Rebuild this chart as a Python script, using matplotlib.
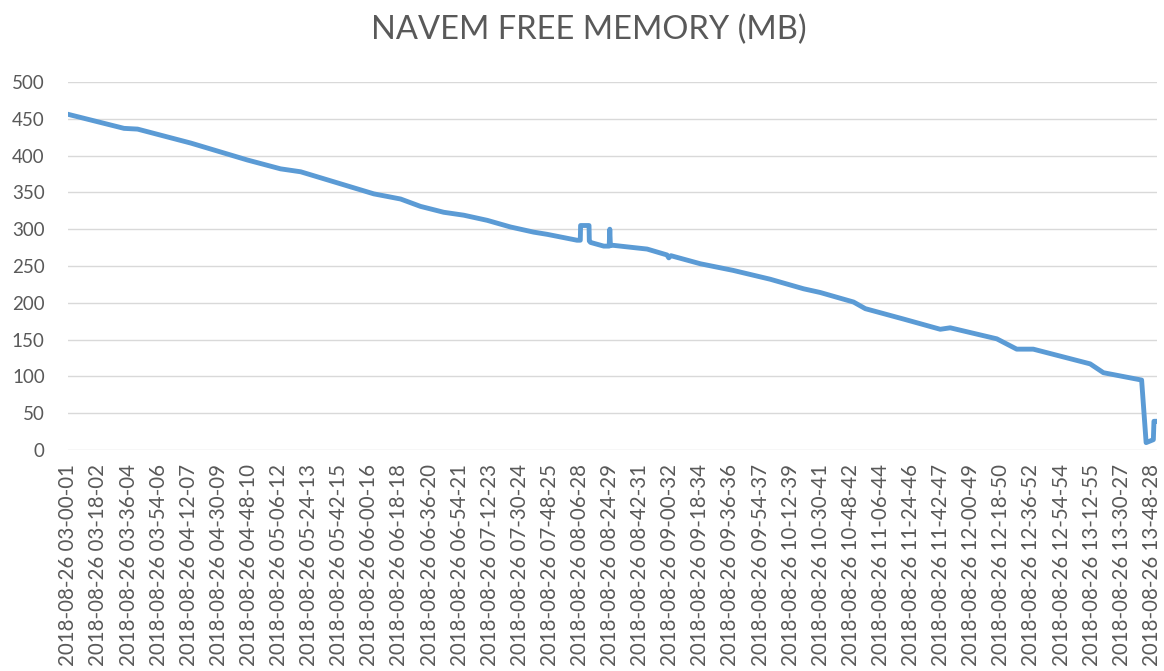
import matplotlib.pyplot as plt

# tick labels (one every ~18 minutes)
times = ["03-00-01", "03-18-02", "03-36-04", "03-54-06", "04-12-07", "04-30-09",
         "04-48-10", "05-06-12", "05-24-13", "05-42-15", "06-00-16", "06-18-18",
         "06-36-20", "06-54-21", "07-12-23", "07-30-24", "07-48-25", "08-06-28",
         "08-24-29", "08-42-31", "09-00-32", "09-18-34", "09-36-36", "09-54-37",
         "10-12-39", "10-30-41", "10-48-42", "11-06-44", "11-24-46", "11-42-47",
         "12-00-49", "12-18-50", "12-36-52", "12-54-54", "13-12-55", "13-30-27",
         "13-48-28"]
labels = ["2018-08-26 " + t for t in times]

# samples, position in units of tick labels
pos = [0.0, 1.85, 2.30, 4.07, 5.95, 7.05, 7.72, 10.15, 11.04, 11.70, 12.47,
       13.14, 13.92, 14.69, 15.46, 15.91, 16.90, 17.01, 17.02, 17.30, 17.31,
       17.35, 17.79, 17.97, 17.99, 18.01, 18.12, 18.78, 19.23, 19.89, 19.95,
       20.02, 21.00, 22.09, 23.32, 24.43, 24.98, 26.09, 26.48, 27.74, 28.97,
       29.30, 30.85, 31.51, 32.06, 33.95, 34.39, 35.66, 35.81, 36.05, 36.07,
       36.12]
free_mb = [456, 437, 436, 417, 394, 382, 378, 348, 341, 331, 323,
           319, 312, 303, 296, 293, 285, 285, 305, 305, 284,
           282, 277, 277, 300, 278, 278, 275, 273, 265, 261,
           264, 253, 244, 232, 219, 214, 201, 192, 178, 164,
           166, 151, 137, 137, 117, 105, 95, 10, 14, 39,
           39]

grey = "#595959"
plt.rcParams['font.family'] = ['Lato', 'DejaVu Sans']

fig = plt.figure(figsize=(11.64, 6.71), dpi=100)
ax = fig.add_axes([0.0587, 0.3294, 0.935, 0.5484])

ax.plot(pos, free_mb, color="#5B9BD5", linewidth=3.5, solid_joinstyle="round")

ax.set_ylim(0, 500)
ax.set_yticks(range(0, 501, 50))
ax.set_xlim(0, 36.16)
ax.set_xticks(range(len(labels)))
ax.set_xticklabels(labels, rotation=90)
ax.tick_params(axis="both", length=0, colors=grey)
ax.tick_params(axis="y", pad=17, labelsize=13.5)
ax.tick_params(axis="x", pad=10, labelsize=14.8)
ax.grid(axis="y", color="#d9d9d9", linewidth=1)
ax.set_axisbelow(True)
for s in ax.spines.values():
    s.set_visible(False)

fig.text(0.506, 1 - 30 / 671, "NAVEM FREE MEMORY (MB)", ha="center", va="center",
         fontsize=23.5, color=grey)

fig.savefig("out.png", dpi=100)
